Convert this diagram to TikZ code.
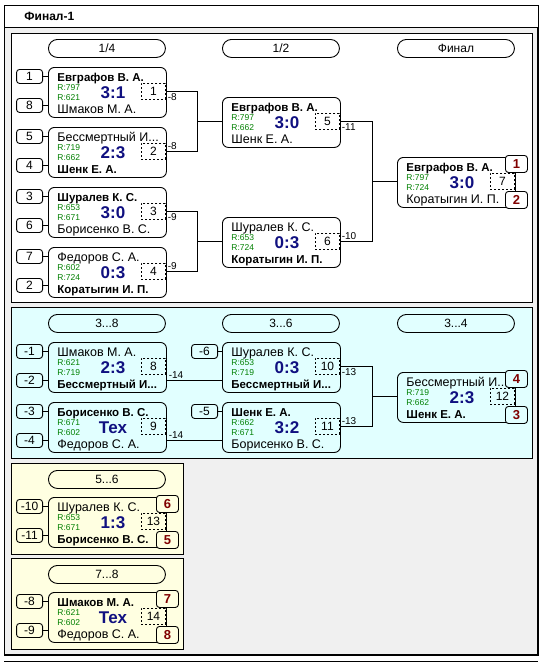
\documentclass[tikz,border=0pt]{standalone}
\usepackage{fontspec}
\setmainfont{Liberation Sans}
\usetikzlibrary{positioning}

\definecolor{framegray}{RGB}{240,240,240}
\definecolor{cyanbg}{RGB}{225,255,255}
\definecolor{yellowbg}{RGB}{255,255,225}
\definecolor{ratinggreen}{RGB}{0,128,0}
\definecolor{scorenavy}{RGB}{16,16,128}
\definecolor{placered}{RGB}{128,0,0}
\colorlet{panelbg}{white}

\tikzset{
  game/.style={draw, rounded corners=6pt, minimum width=118pt, minimum height=50pt, inner sep=0pt},
  header/.style={draw, rounded corners=9pt, minimum width=117pt, minimum height=18pt, inner sep=0pt, font=\fontsize{12}{12}\selectfont},
  seedbox/.style={draw, rounded corners=3pt, minimum width=26pt, minimum height=14pt, inner sep=0pt, font=\fontsize{12}{12}\selectfont},
  numbox/.style={draw, dash pattern=on 2pt off 2pt, minimum width=24pt, minimum height=16pt, inner sep=0pt, font=\fontsize{12}{12}\selectfont},
  placebox/.style={draw, rounded corners=3pt, minimum width=22pt, minimum height=17pt, inner sep=0pt, fill=panelbg, text=placered, font=\fontsize{13}{13}\selectfont\bfseries},
  player/.style={anchor=base west, inner sep=0pt, font=\fontsize{12.5}{12.5}\selectfont},
  rating/.style={anchor=base west, inner sep=0pt, text=ratinggreen, font=\fontsize{8.5}{8.5}\selectfont},
  score/.style={anchor=base, inner sep=0pt, text=scorenavy, font=\fontsize{17}{17}\selectfont\bfseries},
  lbl/.style={inner sep=1.5pt, font=\fontsize{10}{10}\selectfont},
}

\newcommand{\winner}[1]{{\fontsize{11.5}{11.5}\selectfont\bfseries #1}}
\newcommand{\game}[8]{%
  \node[game, anchor=north west] (#1) at (#2) {};
  \node[numbox, anchor=north east] (#1n) at ([shift={(-1,16)}]#1.north east) {#8};
  \node[player] at ([shift={(9,14)}]#1.north west) {#3};
  \node[rating] at ([shift={(9,23)}]#1.north west) {R:#4};
  \node[score] at ([shift={(65,31)}]#1.north west) {#5};
  \node[rating] at ([shift={(9,33)}]#1.north west) {R:#6};
  \node[player] at ([shift={(9,46)}]#1.north west) {#7};
}
\newcommand{\seeds}[3]{%
  \node[seedbox, anchor=north east] (#1a) at ([shift={(-5,2)}]#1.north west) {#2};
  \node[seedbox, anchor=south east] (#1b) at ([shift={(-5,-5)}]#1.south west) {#3};
  \draw (#1a) -- (#1a -| #1.west);
  \draw (#1b) -- (#1b -| #1.west);
}
\newcommand{\places}[3]{%
  \node[placebox, anchor=north east] (#1p) at ([shift={(12,-2)}]#1.north east) {#2};
  \node[placebox, anchor=south east] (#1q) at ([shift={(12,1)}]#1.south east) {#3};
}

\begin{document}
\begin{tikzpicture}[x=1pt, y=-1pt, line width=0.9pt]
\useasboundingbox (0,0) rectangle (549,662);

% frame
\fill[framegray] (4,27) rectangle (538,655);
\draw[fill=white] (4,5) rectangle (538,27);
\node[anchor=west, inner sep=0pt, font=\fontsize{12}{12}\selectfont\bfseries] (title) at (24,16) {Финал-1};
\draw (4,27) -- (4,655);
\draw[line width=2pt] (538,27) -- (538,655) -- (4,655);
\draw (4,661.5) -- (538,661.5);

% main bracket
\begin{scope}
\colorlet{panelbg}{white}
\draw[fill=white] (11,33) rectangle (532,302);
\node[header, anchor=north west] (h1) at (48,39) {1/4};
\node[header, anchor=north west] (h2) at (222,39) {1/2};
\node[header, anchor=north west] (h3) at (397,39) {Финал};

\game{g1}{48,67}{\winner{Евграфов В. А.}}{797}{3:1}{621}{Шмаков М. А.}{1}
\game{g2}{48,127}{Бессмертный И...}{719}{2:3}{662}{\winner{Шенк Е. А.}}{2}
\game{g3}{48,187}{\winner{Шуралев К. С.}}{653}{3:0}{671}{Борисенко В. С.}{3}
\game{g4}{48,247}{Федоров С. А.}{602}{0:3}{724}{\winner{Коратыгин И. П.}}{4}
\game{g5}{222,97}{\winner{Евграфов В. А.}}{797}{3:0}{662}{Шенк Е. А.}{5}
\game{g6}{222,217}{Шуралев К. С.}{653}{0:3}{724}{\winner{Коратыгин И. П.}}{6}
\game{g7}{397,157}{\winner{Евграфов В. А.}}{797}{3:0}{724}{Коратыгин И. П.}{7}
\seeds{g1}{1}{8}
\seeds{g2}{5}{4}
\seeds{g3}{3}{6}
\seeds{g4}{7}{2}
\places{g7}{1}{2}

\draw (g1n.east) node[lbl, anchor=north west] {-8} -- ++(32,0) |- (g5.west |- g5n);
\draw (g2n.east) node[lbl, anchor=south west] {-8} -- ++(32,0) |- (g5.west |- g5n);
\draw (g3n.east) node[lbl, anchor=north west] {-9} -- ++(32,0) |- (g6.west |- g6n);
\draw (g4n.east) node[lbl, anchor=south west] {-9} -- ++(32,0) |- (g6.west |- g6n);
\draw (g5n.east) node[lbl, anchor=north west] {-11} -- ++(33,0) |- (g7.west |- g7n);
\draw (g6n.east) node[lbl, anchor=south west] {-10} -- ++(33,0) |- (g7.west |- g7n);
\end{scope}

% places 3-8
\begin{scope}
\colorlet{panelbg}{cyanbg}
\draw[fill=cyanbg] (11,307) rectangle (532,458);
\node[header, anchor=north west] (h4) at (48,314) {3...8};
\node[header, anchor=north west] (h5) at (222,314) {3...6};
\node[header, anchor=north west] (h6) at (397,314) {3...4};

\game{g8}{48,342}{Шмаков М. А.}{621}{2:3}{719}{\winner{Бессмертный И...}}{8}
\game{g9}{48,402}{\winner{Борисенко В. С.}}{671}{Тех}{602}{Федоров С. А.}{9}
\game{g10}{222,342}{Шуралев К. С.}{653}{0:3}{719}{\winner{Бессмертный И...}}{10}
\game{g11}{222,402}{\winner{Шенк Е. А.}}{662}{3:2}{671}{Борисенко В. С.}{11}
\game{g12}{397,372}{Бессмертный И...}{719}{2:3}{662}{\winner{Шенк Е. А.}}{12}
\seeds{g8}{-1}{-2}
\seeds{g9}{-3}{-4}
\node[seedbox, anchor=north east] (g10a) at ([shift={(-4,2)}]g10.north west) {-6};
\node[seedbox, anchor=north east] (g11a) at ([shift={(-4,2)}]g11.north west) {-5};
\draw (g10a) -- (g10a -| g10.west);
\draw (g11a) -- (g11a -| g11.west);
\places{g12}{4}{3}

\draw ([yshift=-38pt]g8.north east) node[lbl, anchor=south west] {-14} -- ([yshift=-38pt]g10.north west);
\draw ([yshift=-38pt]g9.north east) node[lbl, anchor=south west] {-14} -- ([yshift=-38pt]g11.north west);
\draw (g10n.east) node[lbl, anchor=north west] {-13} -- ++(33,0) |- (g12.west |- g12n);
\draw (g11n.east) node[lbl, anchor=south west] {-13} -- ++(33,0) |- (g12.west |- g12n);
\end{scope}

% places 5-6 and 7-8
\begin{scope}
\colorlet{panelbg}{yellowbg}
\draw[fill=yellowbg] (11,463) rectangle (183,554);
\draw[fill=yellowbg] (11,558) rectangle (183,649);
\node[header, anchor=north west] (h7) at (48,470) {5...6};
\node[header, anchor=north west] (h8) at (48,565) {7...8};

\game{g13}{48,497}{Шуралев К. С.}{653}{1:3}{671}{\winner{Борисенко В. С.}}{13}
\game{g14}{48,592}{\winner{Шмаков М. А.}}{621}{Тех}{602}{Федоров С. А.}{14}
\seeds{g13}{-10}{-11}
\seeds{g14}{-8}{-9}
\places{g13}{6}{5}
\places{g14}{7}{8}
\end{scope}
\end{tikzpicture}
\end{document}
